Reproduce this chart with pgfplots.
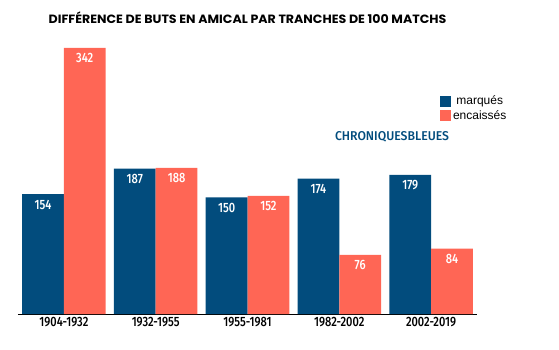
\documentclass[border=0pt]{standalone}
\usepackage{fontspec}
\usepackage{graphicx}
\usepackage{pgfplots}
\pgfplotsset{compat=1.18}
\setmainfont{Liberation Sans}
\newfontfamily\din[FakeStretch=0.82]{Fira Sans Medium}
\newfontfamily\titlefont[FakeStretch=1.05]{Poppins}
\definecolor{navy}{HTML}{024C7D}
\definecolor{salmon}{HTML}{FF6655}
\begin{document}
\begin{tikzpicture}[x=1pt,y=1pt]
\useasboundingbox (0,0) rectangle (559,349);
\node[font=\titlefont\bfseries\fontsize{12}{14}\selectfont, anchor=center] at (247.5,331) {DIFFÉRENCE DE BUTS EN AMICAL PAR TRANCHES DE 100 MATCHS};
\begin{axis}[
  at={(18pt,35pt)}, anchor=south west,
  scale only axis, width=459pt, height=295.6pt,
  ybar=0pt, bar width=0.455,
  xmin=-0.5, xmax=4.5, ymin=0, ymax=380,
  axis x line=bottom, axis y line=none,
  x axis line style={-, black, line width=0.8pt},
  xtick={0,...,4},
  xticklabels={1904-1932,1932-1955,1955-1981,1982-2002,2002-2019},
  xtick style={draw=none},
  xticklabel style={font=\din\fontsize{13.5}{15}\selectfont, inner sep=0pt, yshift=-1pt},
  /pgf/number format/assume math mode=true,
  nodes near coords,
  every node near coord/.append style={anchor=north, inner sep=0pt, yshift=-5.5pt, text=white, font=\din\fontsize{13.5}{15}\selectfont},
  legend style={at={(0.919,0.745)}, anchor=north west, draw=none, fill=none, inner sep=0pt,
    font=\fontsize{12}{14}\selectfont, row sep=0pt},
]
\addplot[fill=navy, draw=none, legend image code/.code={\fill[navy] (0pt,-5.5pt) rectangle (11pt,5.5pt);}]
  coordinates {(0,154) (1,187) (2,150) (3,174) (4,179)};
\addplot[fill=salmon, draw=none, legend image code/.code={\fill[salmon] (0pt,-5.5pt) rectangle (11pt,5.5pt);}]
  coordinates {(0,342) (1,188) (2,152) (3,76) (4,84)};
\legend{marqués, encaissés}
\end{axis}
\node[text=navy, inner sep=0pt] at (392,212.5) {\resizebox{114pt}{9pt}{\din CHRONIQUESBLEUES}};
\end{tikzpicture}
\end{document}
